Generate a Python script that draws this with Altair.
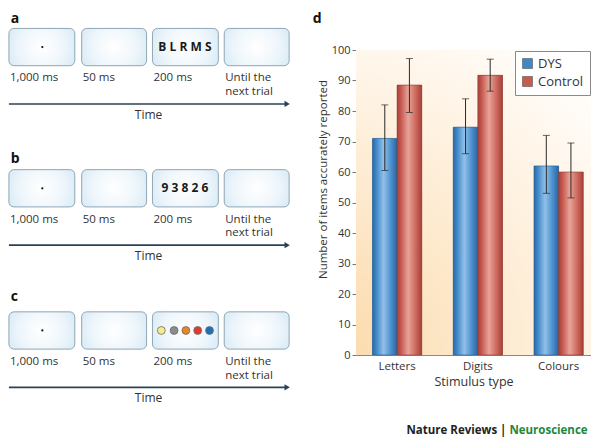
import altair as alt
import pandas as pd

# ---------------- Panel d : bar chart data ----------------
stimulus_types = ["Letters", "Digits", "Colours"]
groups = ["DYS", "Control"]
dys_mean = [71.0, 74.7, 62.0]
dys_low = [60.5, 66.0, 53.0]
dys_high = [82.0, 84.0, 72.0]
ctrl_mean = [88.5, 91.7, 60.0]
ctrl_low = [79.5, 86.5, 51.5]
ctrl_high = [97.2, 97.0, 69.5]
y_ticks = [0, 10, 20, 30, 40, 50, 60, 70, 80, 90, 100]
group_colors = ["#3f87c6", "#c85a50"]

# ---------------- Panels a-c : schematic layout (reference-image units) ----------------
panel_letters = ["a", "b", "c"]
panel_letter_y = [10, 153, 294]
panel_shift = [0, 144, 289]
frame_left = [3, 77, 149, 222]
frame_right = [70, 143, 216, 288]
frame_top = 20
frame_bottom = 58
duration_line1 = ["1,000 ms", "50 ms", "200 ms", "Until the"]
duration_line2 = ["", "", "", "next trial"]
duration_line1_y = 71
duration_line2_y = 85
arrow_x = [3, 284]
arrow_head_x = 286
arrow_y = 97
time_label = "Time"
time_label_x = 145
time_label_y = 108
fixation_x = 37
fixation_y = 39
stim_strings = ["B L R M S", "9 3 8 2 6"]
stim_x = 182
stim_y = 39
colour_dots_x = [158, 171, 183, 195, 207]
colour_dots_fill = ["#f6ec8c", "#8c8c8c", "#e8862a", "#e23a2c", "#1f6fb6"]
d_label = "d"
d_label_xy = [312, 10]
footer_left = "Nature Reviews |"
footer_right = "Neuroscience"
footer_split_x = [509, 512]
footer_y = 430
plot_x_span = [356, 595]
plot_y_span = [42, 353]

W, H = 235, 305
FONT = "Open Sans"

# ---------------- tables ----------------
bars = pd.DataFrame({
    "stimulus": stimulus_types * 2,
    "group": ["DYS"] * 3 + ["Control"] * 3,
    "mean": dys_mean + ctrl_mean,
    "low": dys_low + ctrl_low,
    "high": dys_high + ctrl_high,
})

frames = pd.DataFrame([
    {"x0": l, "x1": r, "y0": frame_top + s, "y1": frame_bottom + s}
    for s in panel_shift for l, r in zip(frame_left, frame_right)
])
dur = pd.DataFrame([
    {"x": l + 1, "y": duration_line1_y + s, "t": t1}
    for s in panel_shift for l, t1 in zip(frame_left, duration_line1)
] + [
    {"x": l + 1, "y": duration_line2_y + s, "t": t2}
    for s in panel_shift for l, t2 in zip(frame_left, duration_line2) if t2
])
arrows = pd.DataFrame({"x0": [arrow_x[0]] * 3, "x1": [arrow_x[1]] * 3,
                       "y": [arrow_y + s for s in panel_shift]})
heads = pd.DataFrame({"x": [arrow_head_x] * 3, "y": [arrow_y + s for s in panel_shift]})
times = pd.DataFrame({"x": [time_label_x] * 3, "y": [time_label_y + s for s in panel_shift],
                      "t": [time_label] * 3})
letters = pd.DataFrame({"x": [5] * 3 + [d_label_xy[0]], "y": panel_letter_y + [d_label_xy[1]],
                        "t": panel_letters + [d_label]})
fix = pd.DataFrame({"x": [fixation_x] * 3, "y": [fixation_y + s for s in panel_shift]})
stims = pd.DataFrame({"x": [stim_x] * 2, "y": [stim_y + s for s in panel_shift[:2]],
                      "t": stim_strings})
dots = pd.DataFrame({"x": colour_dots_x, "y": [stim_y + panel_shift[2]] * 5,
                     "c": colour_dots_fill})
footer_l = pd.DataFrame({"x": [footer_split_x[0]], "y": [footer_y], "t": [footer_left]})
footer_r = pd.DataFrame({"x": [footer_split_x[1]], "y": [footer_y], "t": [footer_right]})
plot_bg = pd.DataFrame({"x0": [plot_x_span[0]], "x1": [plot_x_span[1]],
                        "y0": [plot_y_span[0]], "y1": [plot_y_span[1]]})

sx = alt.Scale(domain=plot_x_span, nice=False, zero=False)
sy = alt.Scale(domain=plot_y_span, reverse=True, nice=False, zero=False)


def X(f):
    return alt.X(f, type="quantitative", scale=sx, axis=None)


def Y(f):
    return alt.Y(f, type="quantitative", scale=sy, axis=None)


box_fill = {"gradient": "radial", "x1": 0.5, "y1": 0.5, "r1": 0, "x2": 0.5, "y2": 0.5, "r2": 0.75,
            "stops": [{"offset": 0, "color": "#ffffff"}, {"offset": 0.45, "color": "#eef6fb"},
                      {"offset": 1, "color": "#c6e0f0"}]}
view_fill = {"gradient": "radial", "x1": 0, "y1": 1, "r1": 0, "x2": 0, "y2": 1, "r2": 1.3,
             "stops": [{"offset": 0, "color": "#fbd9a8"}, {"offset": 0.35, "color": "#fde7c8"},
                       {"offset": 0.7, "color": "#fff4e6"}, {"offset": 1, "color": "#ffffff"}]}

bg_layer = alt.Chart(plot_bg).mark_rect(fill=view_fill, strokeWidth=0).encode(
    x=X("x0"), x2="x1", y=Y("y0"), y2="y1")

frame_layer = alt.Chart(frames).mark_rect(cornerRadius=5, stroke="#8fa6b6", strokeWidth=1,
                                          fill=box_fill).encode(
    x=X("x0"), x2="x1", y=Y("y0"), y2="y1")
dur_layer = alt.Chart(dur).mark_text(align="left", baseline="middle", fontSize=11.5,
                                     color="#333333", font=FONT).encode(
    x=X("x"), y=Y("y"), text="t:N")
arrow_layer = alt.Chart(arrows).mark_rule(color="#2b4256", strokeWidth=1.6).encode(
    x=X("x0"), x2="x1", y=Y("y"))
head_layer = alt.Chart(heads).mark_point(shape="triangle-right", filled=True, size=38,
                                         color="#2b4256", opacity=1).encode(
    x=X("x"), y=Y("y"))
time_layer = alt.Chart(times).mark_text(align="center", baseline="middle", fontSize=12,
                                        color="#333333", font=FONT).encode(
    x=X("x"), y=Y("y"), text="t:N")
letter_layer = alt.Chart(letters).mark_text(align="left", baseline="middle", fontSize=14,
                                            fontWeight="bold", color="#111111", font=FONT).encode(
    x=X("x"), y=Y("y"), text="t:N")
fix_layer = alt.Chart(fix).mark_circle(size=5, color="#111111", opacity=1).encode(
    x=X("x"), y=Y("y"))
stim_layer = alt.Chart(stims).mark_text(align="center", baseline="middle", fontSize=12,
                                        fontWeight="bold", color="#1a1a1a", font=FONT).encode(
    x=X("x"), y=Y("y"), text="t:N")
dot_layer = alt.Chart(dots).mark_point(filled=True, size=62, stroke="#6b6b6b", strokeWidth=0.8,
                                       opacity=1).encode(
    x=X("x"), y=Y("y"), fill=alt.Fill("c:N", scale=None))
footer_l_layer = alt.Chart(footer_l).mark_text(align="right", baseline="middle", fontSize=11.5,
                                               fontWeight="bold", font=FONT,
                                               color="#222222").encode(
    x=X("x"), y=Y("y"), text="t:N")
footer_r_layer = alt.Chart(footer_r).mark_text(align="left", baseline="middle", fontSize=11.5,
                                               fontWeight="bold", font=FONT,
                                               color="#23873b").encode(
    x=X("x"), y=Y("y"), text="t:N")

schematic = alt.layer(frame_layer, dur_layer, arrow_layer, head_layer, time_layer,
                      letter_layer, fix_layer, stim_layer, dot_layer, footer_l_layer,
                      footer_r_layer)

# ---------------- bar chart ----------------
x_enc = alt.X("stimulus:N", sort=stimulus_types,
              scale=alt.Scale(domain=stimulus_types, paddingInner=0.39, paddingOuter=0.15, align=0.68),
              axis=alt.Axis(title="Stimulus type", labelAngle=0, ticks=False, labelPadding=5,
                            labelFontSize=11.5, labelColor="#333333", titleFontSize=12.5,
                            titleFontWeight="normal", titleColor="#333333", titlePadding=4,
                            domainColor="#8a8a8a"))
xo_enc = alt.XOffset("group:N", sort=groups,
                     scale=alt.Scale(domain=groups, paddingInner=0, paddingOuter=0))
y_axis = alt.Axis(values=y_ticks, title="Number of items accurately reported", grid=False,
                  labelFontSize=11, labelColor="#333333", labelPadding=2, tickSize=4,
                  labelOverlap=False, tickColor="#777777", domainColor="#8a8a8a",
                  titleFontSize=11.5, titleFontWeight="normal", titleColor="#333333",
                  titleX=-29.5, titleY=129, titleBaseline="alphabetic")
y_scale = alt.Scale(domain=[0, 100], nice=False)


def YB(f):
    return alt.Y(f, type="quantitative", scale=y_scale, axis=y_axis,
                 title="Number of items accurately reported")


base = alt.Chart(bars)
solid = base.mark_bar().encode(
    x=x_enc, xOffset=xo_enc,
    y=YB("mean"),
    color=alt.Color("group:N", sort=groups,
                    scale=alt.Scale(domain=groups, range=group_colors),
                    legend=alt.Legend(title=None, orient="top-right", offset=1, symbolType="square",
                                      symbolSize=100, symbolStrokeColor="#555555",
                                      symbolStrokeWidth=0.6, labelFontSize=13,
                                      labelColor="#333333", rowPadding=4, padding=6,
                                      strokeColor="#8a8a8a", fillColor="#ffffff",
                                      labelFont=FONT)))

blue_grad = {"gradient": "linear", "x1": 0, "x2": 1, "y1": 0, "y2": 0,
             "stops": [{"offset": 0, "color": "#2b68a4"}, {"offset": 0.15, "color": "#3e87c8"},
                       {"offset": 0.45, "color": "#92c0e7"}, {"offset": 0.75, "color": "#4b90cf"},
                       {"offset": 1, "color": "#2a65a0"}]}
red_grad = {"gradient": "linear", "x1": 0, "x2": 1, "y1": 0, "y2": 0,
            "stops": [{"offset": 0, "color": "#a8413a"}, {"offset": 0.15, "color": "#c5574e"},
                      {"offset": 0.45, "color": "#e7a498"}, {"offset": 0.75, "color": "#cf6a5f"},
                      {"offset": 1, "color": "#a53f38"}]}

blue_bars = base.mark_bar(fill=blue_grad, stroke="#2a5f92", strokeWidth=0.6).encode(
    x=x_enc, xOffset=xo_enc, y=YB("mean")
).transform_filter(alt.datum.group == "DYS")
red_bars = base.mark_bar(fill=red_grad, stroke="#8f3a33", strokeWidth=0.6).encode(
    x=x_enc, xOffset=xo_enc, y=YB("mean")
).transform_filter(alt.datum.group == "Control")
err = base.mark_rule(color="#2a2a2a", strokeWidth=1).encode(
    x=x_enc, xOffset=xo_enc, y=YB("low"), y2="high:Q")
cap_lo = base.mark_tick(color="#2a2a2a", thickness=1, size=7).encode(
    x=x_enc, xOffset=xo_enc, y=YB("low"))
cap_hi = base.mark_tick(color="#2a2a2a", thickness=1, size=7).encode(
    x=x_enc, xOffset=xo_enc, y=YB("high"))

bar_chart = alt.layer(solid, blue_bars, red_bars, err, cap_lo, cap_hi)

chart = alt.layer(bg_layer, bar_chart, schematic).resolve_scale(
    x="independent", y="independent"
).properties(width=W, height=H,
             padding={"top": 3, "left": 0, "right": 0, "bottom": 0}
             ).configure(font=FONT).configure_view(stroke=None)

chart.save("out.html", embed_options={"renderer": "svg", "actions": False})
